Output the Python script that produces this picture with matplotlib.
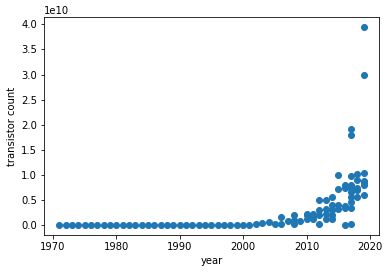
import matplotlib
matplotlib.use("Agg")
from matplotlib import pyplot as plt

# transistor counts by year
years = [1971, 1972, 1973, 1974, 1975, 1976, 1977, 1978, 1979, 1980,
         1981, 1982, 1983, 1984, 1985, 1986, 1987, 1988, 1989, 1990,
         1991, 1992, 1993, 1994, 1995, 1996, 1997, 1998, 1999, 2000,
         2001, 2002, 2003, 2004, 2005, 2006, 2006, 2007, 2008, 2008, 2008,
         2009, 2010, 2010, 2010, 2011, 2011, 2011, 2012, 2012, 2012, 2012,
         2013, 2013, 2013, 2013, 2014, 2014, 2014, 2014, 2014,
         2015, 2015, 2015, 2015, 2016, 2016, 2016, 2016, 2016,
         2017, 2017, 2017, 2017, 2017, 2017, 2017, 2017, 2017, 2017,
         2018, 2018, 2018, 2018, 2018, 2019, 2019, 2019, 2019, 2019, 2019, 2019]
counts = [2.3e3, 3.5e3, 4.5e3, 6.0e3, 4.5e3, 8.5e3, 9.0e3, 2.9e4, 6.8e4, 3.0e4,
          1.2e5, 1.3e5, 2.2e4, 1.9e5, 2.8e5, 1.5e5, 4.5e5, 2.5e5, 1.2e6, 1.2e6,
          1.4e6, 3.1e6, 3.1e6, 5.8e6, 5.5e6, 5.5e6, 9.5e6, 2.7e7, 2.2e7, 4.2e7,
          5.5e7, 2.2e8, 4.1e8, 5.9e8, 2.3e8, 1.7e9, 3.0e8, 7.9e8, 2.0e9, 1.0e9, 3.0e8,
          9.0e8, 2.3e9, 1.3e9, 2.0e9, 2.3e9, 1.3e9, 1.8e9, 5.0e9, 3.0e9, 2.0e9, 3.0e8,
          5.0e9, 3.3e9, 2.3e9, 1.3e9, 5.7e9, 4.0e9, 3.0e9, 2.0e9, 1.2e9,
          1.0e10, 7.1e9, 4.0e9, 3.3e9, 7.9e9, 7.3e9, 3.8e9, 3.5e9, 1.0e8,
          1.92e10, 1.8e10, 9.7e9, 8.0e9, 7.3e9, 6.7e9, 5.7e9, 4.7e9, 3.5e9, 2.0e8,
          1.01e10, 9.0e9, 7.3e9, 5.7e9, 6.9e9, 3.95e10, 3.0e10, 1.03e10, 8.7e9, 8.0e9, 6.0e9, 8.5e9]

fig = plt.figure(figsize=(389 / 72, 273 / 72), dpi=72)
ax = fig.add_axes([0.113, 0.139, 0.861, 0.799])
ax.scatter(years, counts)
ax.set_xlabel("year")
ax.set_ylabel("transistor count")
fig.savefig("out.png", dpi=72)
